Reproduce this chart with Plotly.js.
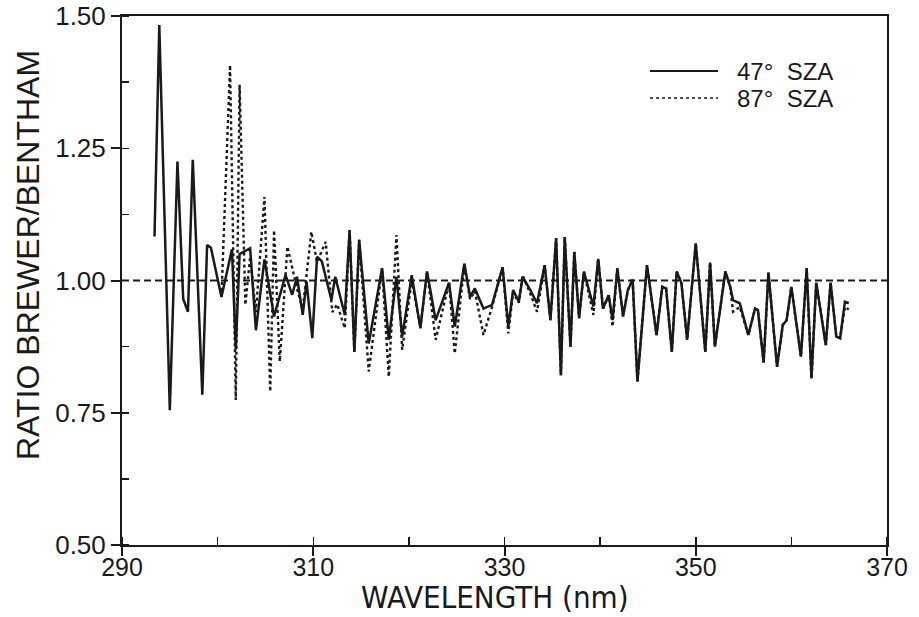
<!DOCTYPE html>
<html>
<head>
<meta charset="utf-8">
<script src="https://cdn.plot.ly/plotly-3.0.1.min.js"></script>
<style>
  html, body { margin: 0; padding: 0; background: #ffffff; }
  #chart { width: 919px; height: 617px; }
</style>
</head>
<body>
<div id="chart"></div>
<script>
// Wavelength (nm) and ratio Brewer/Bentham, 47 deg SZA (solid)
const wl47 = [293.4, 293.9, 295.0, 295.8, 296.4, 296.9, 297.4, 298.4, 298.9, 299.3,
  300.4, 301.5, 301.9, 302.3, 303.4, 304.0, 304.9, 305.9, 307.1, 307.8,
  308.3, 308.9, 309.3, 309.9, 310.4, 310.9, 311.9, 312.3, 313.3, 313.8,
  314.3, 314.8, 315.8, 317.2, 317.9, 318.7, 319.3, 320.3, 321.2, 321.9,
  322.8, 324.2, 324.8, 325.8, 326.4, 326.9, 327.8, 328.7, 329.8, 330.4,
  330.9, 331.5, 331.9, 332.7, 333.4, 334.2, 334.8, 335.4, 335.9, 336.3,
  336.9, 337.3, 337.8, 338.3, 339.3, 339.8, 340.3, 340.9, 341.3, 341.8,
  342.4, 342.9, 343.4, 343.9, 344.9, 345.9, 346.5, 346.9, 347.5, 348.0,
  348.5, 349.1, 350.0, 351.0, 351.5, 352.0, 353.1, 353.6, 353.9, 354.6,
  355.5, 356.2, 356.5, 357.1, 357.6, 358.5, 359.1, 359.5, 360.0, 361.0,
  361.6, 362.1, 362.6, 363.6, 364.1, 364.7, 365.1, 365.6, 366.0];
const r47 = [1.083, 1.483, 0.755, 1.225, 0.965, 0.941, 1.228, 0.784, 1.067, 1.062,
  0.969, 1.059, 0.869, 1.050, 1.061, 0.906, 1.040, 0.932, 1.010, 0.973,
  1.007, 0.935, 0.998, 0.891, 1.045, 1.036, 0.963, 1.007, 0.935, 1.095,
  0.865, 1.077, 0.881, 1.023, 0.888, 1.007, 0.894, 1.010, 0.910, 1.017,
  0.925, 0.996, 0.913, 1.032, 0.969, 0.985, 0.947, 0.954, 1.025, 0.913,
  0.982, 0.960, 1.007, 0.982, 0.957, 1.029, 0.925, 1.080, 0.821, 1.082,
  0.875, 1.054, 0.929, 1.017, 0.951, 1.041, 0.947, 0.972, 0.925, 1.023,
  0.932, 0.982, 1.002, 0.809, 1.029, 0.897, 0.988, 0.985, 0.865, 1.017,
  0.995, 0.888, 1.070, 0.865, 1.034, 0.875, 1.017, 0.988, 0.963, 0.957,
  0.897, 0.947, 0.944, 0.845, 1.015, 0.837, 0.916, 0.925, 0.988, 0.856,
  1.023, 0.815, 0.996, 0.878, 0.996, 0.894, 0.891, 0.960, 0.957];

// 87 deg SZA (dotted)
const wl87 = [300.4, 301.3, 301.9, 302.3, 302.9, 303.4, 304.0, 304.9, 305.5, 305.9,
  306.5, 307.3, 308.3, 308.9, 309.8, 310.4, 311.3, 312.0, 312.5, 313.3,
  313.8, 314.3, 314.8, 315.8, 317.2, 317.9, 318.7, 319.3, 320.3, 321.2,
  321.9, 322.8, 324.2, 324.8, 325.8, 326.4, 326.9, 327.8, 328.7, 329.8,
  330.4, 330.9, 331.5, 331.9, 332.7, 333.4, 334.2, 334.8, 335.4, 335.9,
  336.3, 336.9, 337.3, 337.8, 338.3, 339.3, 339.8, 340.3, 340.9, 341.3,
  341.8, 342.4, 342.9, 343.4, 343.9, 344.9, 345.9, 346.5, 346.9, 347.5,
  348.0, 348.5, 349.1, 350.0, 351.0, 351.5, 352.0, 353.1, 353.6, 353.9,
  354.6, 355.5, 356.2, 356.5, 357.1, 357.6, 358.5, 359.1, 359.5, 360.0,
  361.0, 361.6, 362.1, 362.6, 363.6, 364.1, 364.7, 365.1, 365.6, 366.0];
const r87 = [0.969, 1.407, 0.774, 1.370, 0.954, 1.045, 0.940, 1.158, 0.790, 1.095,
  0.847, 1.064, 0.985, 0.945, 1.092, 1.035, 1.073, 0.940, 0.955, 0.910,
  1.095, 0.865, 1.077, 0.828, 1.023, 0.818, 1.086, 0.869, 1.000, 0.910,
  1.017, 0.888, 0.996, 0.862, 1.030, 0.965, 0.980, 0.897, 0.950, 1.025,
  0.900, 0.978, 0.958, 1.010, 0.975, 0.941, 1.029, 0.925, 1.080, 0.821,
  1.082, 0.875, 1.054, 0.929, 1.017, 0.935, 1.041, 0.947, 0.972, 0.913,
  1.023, 0.932, 0.982, 1.002, 0.809, 1.029, 0.897, 0.988, 0.985, 0.865,
  1.017, 0.995, 0.888, 1.070, 0.865, 1.034, 0.875, 1.017, 0.988, 0.941,
  0.950, 0.897, 0.947, 0.944, 0.845, 1.015, 0.837, 0.916, 0.925, 0.988,
  0.856, 1.023, 0.815, 0.996, 0.878, 0.996, 0.894, 0.891, 0.950, 0.945];

const xTicks = [290, 310, 330, 350, 370];
const yTicks = [0.50, 0.75, 1.00, 1.25, 1.50];
const seriesNames = ['47\u00b0\u00a0\u00a0SZA', '87\u00b0\u00a0\u00a0SZA'];
const xTitle = 'WAVELENGTH (nm)';
const yTitle = 'RATIO BREWER/BENTHAM';
const refRatio = 1.0;

const ink = '#1a1a1a';
const fontMain = 'Liberation Sans, Arial, sans-serif';
const fontNarrow = 'Liberation Sans Narrow, DejaVu Sans Condensed, Liberation Sans, sans-serif';

const traces = [
  { x: wl47, y: r47, type: 'scatter', mode: 'lines', name: seriesNames[0],
    line: { color: ink, width: 2.5, dash: 'solid' }, showlegend: false },
  { x: wl87, y: r87, type: 'scatter', mode: 'lines', name: seriesNames[1],
    line: { color: ink, width: 2.4, dash: 'dot' }, showlegend: false }
];

const axisCommon = {
  showgrid: false, zeroline: false, showline: true, linecolor: ink, linewidth: 2,
  mirror: true, ticks: 'outside', ticklen: 9, tickwidth: 2, tickcolor: ink
};

const layout = {
  width: 919, height: 617,
  margin: { l: 122, r: 32, t: 16, b: 72, pad: 0 },
  paper_bgcolor: '#ffffff', plot_bgcolor: '#ffffff',
  showlegend: false,
  xaxis: Object.assign({}, axisCommon, {
    range: [290, 370], tickmode: 'array', tickvals: xTicks,
    ticktext: xTicks.map(String), ticklabelstandoff: -10,
    tickfont: { family: fontMain, size: 25, color: ink },
    minor: { ticks: 'inside', dtick: 10, tick0: 290, ticklen: 8, tickwidth: 1.5, tickcolor: ink, showgrid: false }
  }),
  yaxis: Object.assign({}, axisCommon, {
    range: [0.5, 1.5], tickmode: 'array', tickvals: yTicks,
    ticktext: yTicks.map(v => v.toFixed(2)),
    tickfont: { family: fontMain, size: 26, color: ink },
    minor: { ticks: 'inside', dtick: 0.125, tick0: 0.5, ticklen: 7, tickwidth: 1.5, tickcolor: ink, showgrid: false }
  }),
  shapes: [
    { type: 'line', xref: 'paper', yref: 'y', x0: 0, x1: 1, y0: refRatio, y1: refRatio,
      line: { color: ink, width: 1.8, dash: '7px,4px' } },
    // legend keys
    { type: 'line', xref: 'paper', yref: 'paper', x0: (650-122)/765, x1: (718-122)/765,
      y0: (545-71)/529, y1: (545-71)/529, line: { color: ink, width: 1.8 } },
    { type: 'line', xref: 'paper', yref: 'paper', x0: (650-122)/765, x1: (718-122)/765,
      y0: (545-98)/529, y1: (545-98)/529, line: { color: ink, width: 1.6, dash: '3px,3px' } }
  ],
  annotations: [
    { text: seriesNames[0], xref: 'paper', yref: 'paper', x: (735-122)/765, y: (545-71)/529,
      xanchor: 'left', yanchor: 'middle', showarrow: false,
      font: { family: fontMain, size: 24, color: ink } },
    { text: seriesNames[1], xref: 'paper', yref: 'paper', x: (735-122)/765, y: (545-98)/529,
      xanchor: 'left', yanchor: 'middle', showarrow: false,
      font: { family: fontMain, size: 24, color: ink } },
    { text: xTitle, xref: 'paper', yref: 'paper', x: (495-122)/765, y: (545-597)/529,
      xanchor: 'center', yanchor: 'middle', showarrow: false,
      font: { family: fontNarrow, size: 31, color: ink } },
    { text: yTitle, xref: 'paper', yref: 'paper', x: (28-122)/765, y: (545-255)/529,
      xanchor: 'center', yanchor: 'middle', showarrow: false, textangle: -90,
      font: { family: fontMain, size: 32, color: ink } }
  ]
};

Plotly.newPlot('chart', traces, layout, { displayModeBar: false, staticPlot: true });
</script>
</body>
</html>
